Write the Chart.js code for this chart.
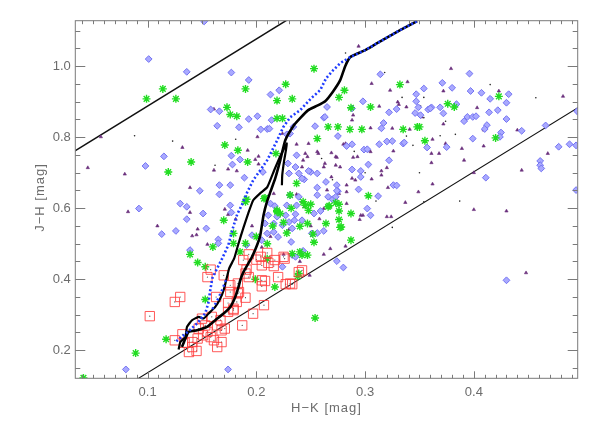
<!DOCTYPE html>
<html>
<head>
<meta charset="utf-8">
<script src="https://cdn.jsdelivr.net/npm/chart.js@4"></script>
<style>
  html, body { margin: 0; padding: 0; background: #ffffff; }
  #wrap { width: 598px; height: 428px; }
</style>
</head>
<body>
<div id="wrap"><canvas id="c" width="598" height="428"></canvas></div>
<script>
// ---------------- DATA (H−K, J−H) ----------------
const xTitle = 'H\u2212K [mag]';
const yTitle = 'J\u2212H [mag]';
const xRange = [0.0335, 0.4955];
const yRange = [0.121, 1.128];
const xTickLabels = [0.1, 0.2, 0.3, 0.4];
const yTickLabels = [0.2, 0.4, 0.6, 0.8, 1.0];
const xMinorStep = 0.01;
const yMinorStep = 0.05;

// reddening band borders
const reddeningUpper = [[0.0, 0.699], [0.25, 1.171]];
const reddeningLower = [[0.08, 0.099], [0.50, 0.891]];

// model tracks
const blueTrack = [
  [0.1264,0.2254],[0.1365,0.2507],[0.1457,0.2761],[0.1530,0.3042],[0.1558,0.3324],[0.1576,0.3690],
  [0.1595,0.4028],[0.1631,0.4254],[0.1687,0.4592],[0.1742,0.4958],[0.1778,0.5380],[0.1824,0.5831],
  [0.1870,0.6113],[0.1916,0.6451],[0.1971,0.6789],[0.2036,0.7070],[0.2100,0.7352],[0.2146,0.7634],
  [0.2192,0.7915],[0.2247,0.8282],[0.2312,0.8563],[0.2403,0.8761],[0.2505,0.9099],[0.2587,0.9324],
  [0.2642,0.9662],[0.2707,0.9887],[0.2771,1.0085],[0.2863,1.0254],[0.3001,1.0451],[0.3111,1.0648],
  [0.3322,1.1014],[0.3479,1.1268]
];
const blueTrack2 = [[0.1595,0.316],[0.1640,0.340],[0.1680,0.366],[0.1720,0.398]];
const trackA = [
  [0.1285,0.2020],[0.1301,0.2234],[0.1347,0.2375],[0.1362,0.2656],[0.1408,0.2845],[0.1469,0.2938],
  [0.1515,0.2893],[0.1561,0.3034],[0.1622,0.3220],[0.1668,0.3456],[0.1699,0.3690],[0.1730,0.4065],
  [0.1751,0.4310],[0.1797,0.4592],[0.1834,0.4986],[0.1880,0.5437],[0.1926,0.5859],[0.1971,0.6225],
  [0.2036,0.6423],[0.2100,0.6592],[0.2164,0.7070],[0.2220,0.7465],[0.2281,0.7823],[0.2256,0.7352],
  [0.2238,0.6930],[0.2235,0.6648]
];
const trackB = [
  [0.1316,0.2093],[0.1377,0.2515],[0.1454,0.2563],[0.1546,0.2656],[0.1622,0.2845],[0.1699,0.3034],
  [0.1760,0.3220],[0.1806,0.3501],[0.1836,0.3783],[0.1852,0.3972],[0.1882,0.4206],[0.1960,0.4628],
  [0.2006,0.4958],[0.2036,0.5239],[0.2066,0.5803],[0.2097,0.6177],[0.2128,0.6451],[0.2174,0.6845],
  [0.2220,0.7352],[0.2266,0.7915],[0.2339,0.8310],[0.2403,0.8535],[0.2477,0.8761],[0.2550,0.8873],
  [0.2633,0.9014],[0.2707,0.9296],[0.2771,0.9606],[0.2817,1.0000],[0.2863,1.0254],[0.3001,1.0451],
  [0.3111,1.0648],[0.3322,1.1014],[0.3479,1.1268]
];

const blueDiamonds = [
  [0.101,1.020],[0.136,0.984],[0.152,1.126],[0.177,0.982],[0.193,0.961],[0.213,0.920],[0.221,0.932],
  [0.158,0.878],[0.166,0.873],[0.164,0.832],[0.184,0.828],[0.193,0.851],[0.201,0.859],[0.210,0.823],[0.214,0.848],
  [0.177,0.748],[0.185,0.737],[0.098,0.719],[0.115,0.746],[0.092,0.599],[0.148,0.649],[0.166,0.639],[0.176,0.665],
  [0.189,0.686],[0.234,0.829],[0.231,0.810],[0.230,0.698],[0.236,0.716],[0.130,0.613],[0.136,0.604],
  [0.178,0.723],[0.166,0.665],[0.206,0.702],[0.204,0.822],
  [0.314,0.977],[0.396,0.979],[0.371,0.953],[0.354,0.937],[0.380,0.939],[0.397,0.930],[0.347,0.921],[0.407,0.925],[0.415,0.908],[0.432,0.921],
  [0.298,0.901],[0.347,0.901],[0.288,0.881],[0.265,0.885],[0.322,0.870],[0.329,0.879],[0.349,0.884],[0.358,0.878],[0.361,0.884],[0.372,0.867],
  [0.384,0.893],[0.430,0.897],[0.422,0.876],[0.414,0.870],[0.346,0.868],[0.351,0.862],[0.394,0.857],[0.399,0.857],[0.402,0.859],[0.391,0.845],
  [0.430,0.851],[0.262,0.855],[0.254,0.831],[0.412,0.834],[0.410,0.823],[0.425,0.813],[0.444,0.818],[0.466,0.833],[0.399,0.796],
  [0.424,0.801],[0.275,0.803],[0.299,0.765],[0.302,0.766],[0.313,0.780],[0.320,0.788],[0.325,0.789],[0.335,0.782],[0.336,0.785],[0.357,0.771],
  [0.375,0.772],[0.288,0.780],[0.283,0.775],[0.250,0.702],[0.256,0.698],[0.244,0.681],[0.288,0.709],[0.296,0.705],[0.303,0.723],
  [0.322,0.735],[0.264,0.674],[0.274,0.665],[0.326,0.665],[0.329,0.664],[0.312,0.634],[0.294,0.653],[0.275,0.648],[0.411,0.686],[0.461,0.733],
  [0.461,0.721],[0.462,0.712],[0.478,0.773],[0.488,0.780],[0.494,0.777],[0.494,0.651],[0.495,0.873],[0.256,0.637],[0.270,0.625],[0.302,0.599],
  [0.360,0.881],[0.369,0.884],[0.317,0.840],[0.315,0.825],
  [0.430,0.397],[0.274,0.451],[0.280,0.433],[0.243,0.480],[0.305,0.580],[0.262,0.536],[0.235,0.566],
  [0.113,0.527],[0.151,0.585],[0.139,0.482],[0.165,0.512],[0.080,0.146],[0.174,0.146],[0.224,0.435],[0.232,0.505],
  [0.176,0.608],[0.177,0.588],[0.136,0.569],[0.154,0.543],[0.126,0.536],[0.165,0.501],
  [0.231,0.637],[0.239,0.632],[0.274,0.649],[0.213,0.613],[0.217,0.606],[0.228,0.608],[0.237,0.608],[0.253,0.585],[0.259,0.592],
  [0.211,0.580],[0.219,0.576],[0.227,0.580],[0.236,0.583],[0.242,0.566],[0.208,0.557],[0.216,0.557],[0.224,0.552],[0.230,0.561],[0.233,0.543],
  [0.210,0.529],[0.216,0.533],[0.220,0.519],[0.205,0.510],[0.251,0.529],[0.256,0.530],[0.233,0.468],[0.236,0.463],[0.266,0.632],
  [0.212,0.824],[0.228,0.808],[0.263,0.857],[0.237,0.749],[0.229,0.726],[0.248,0.705],[0.239,0.698],[0.242,0.684],[0.256,0.658],[0.296,0.688],[0.273,0.632],
  [0.191,0.496],[0.196,0.524]
];

const purpleTriangles = [
  [0.045,0.714],[0.057,0.801],[0.079,0.696],[0.082,0.590],[0.132,0.771],[0.139,0.658],[0.161,0.707],[0.174,0.710],[0.201,0.801],[0.202,0.746],[0.224,0.810],[0.161,0.879],
  [0.192,0.763],[0.199,0.737],[0.202,0.724],[0.182,0.705],
  [0.109,0.550],[0.139,0.588],[0.141,0.522],[0.145,0.525],[0.155,0.498],[0.174,0.582],[0.171,0.597],[0.181,0.569],[0.146,0.541],
  [0.294,1.056],[0.379,0.993],[0.306,0.951],[0.339,0.956],[0.323,0.932],[0.372,0.930],[0.423,0.930],[0.482,0.915],
  [0.313,0.887],[0.338,0.885],[0.330,0.899],[0.288,0.848],[0.305,0.826],[0.325,0.825],[0.314,0.825],[0.352,0.857],[0.403,0.883],[0.372,0.837],
  [0.440,0.820],[0.409,0.820],[0.280,0.780],[0.289,0.743],[0.293,0.745],[0.305,0.759],[0.361,0.754],[0.374,0.782],[0.368,0.754],[0.326,0.761],
  [0.269,0.756],[0.274,0.743],[0.247,0.745],[0.243,0.735],[0.273,0.721],[0.306,0.682],[0.315,0.705],[0.315,0.693],[0.320,0.714],[0.361,0.728],
  [0.391,0.735],[0.400,0.700],[0.444,0.707],[0.468,0.754],[0.362,0.668],[0.349,0.646],[0.337,0.616],[0.321,0.658],[0.283,0.646],[0.400,0.596],
  [0.430,0.592],[0.288,0.684],[0.262,0.716],[0.256,0.759],[0.237,0.780],
  [0.448,0.418],[0.298,0.580],[0.320,0.576],[0.324,0.576],[0.282,0.493],[0.295,0.568],[0.249,0.411],
  [0.216,0.641],[0.237,0.639],[0.242,0.618],[0.244,0.604],[0.262,0.599],[0.273,0.627],[0.283,0.613],[0.296,0.580],[0.268,0.486],
  [0.248,0.782],[0.245,0.754],[0.273,0.745],[0.263,0.726],[0.277,0.716],[0.269,0.688],[0.291,0.679],[0.283,0.665],[0.265,0.651],[0.294,0.651],
  [0.289,0.862],[0.282,0.782],[0.276,0.641],[0.257,0.754],[0.242,0.716],
  [0.331,0.892],[0.341,0.822],[0.362,0.794],[0.389,0.768],[0.409,0.775],
  [0.196,0.550],[0.213,0.520],[0.225,0.470],[0.205,0.490],[0.230,0.540],[0.218,0.600],[0.250,0.550],[0.258,0.570],[0.262,0.470],[0.240,0.450]
];

const greenStars = [
  [0.099,0.908],[0.114,0.936],[0.126,0.908],[0.140,0.730],[0.119,0.702],[0.173,0.884],[0.176,0.864],[0.182,0.859],[0.190,0.936],[0.227,0.949],
  [0.219,0.903],[0.233,0.908],[0.219,0.853],[0.224,0.853],[0.171,0.778],[0.183,0.763],[0.192,0.730],[0.218,0.754],[0.237,0.670],[0.191,0.625],
  [0.208,0.629],[0.219,0.594],
  [0.253,0.993],[0.281,0.932],[0.276,0.912],[0.287,0.883],[0.305,0.885],[0.332,0.948],[0.376,0.894],[0.382,0.885],[0.423,0.915],[0.266,0.829],
  [0.275,0.829],[0.286,0.822],[0.297,0.822],[0.335,0.822],[0.348,0.829],[0.350,0.829],[0.355,0.790],[0.420,0.798],[0.256,0.796],
  [0.303,0.635],[0.273,0.615],[0.267,0.607],[0.287,0.585],[0.276,0.592],[0.243,0.618],[0.250,0.611],[0.248,0.594],[0.231,0.637],
  [0.254,0.291],[0.287,0.510],[0.277,0.546],[0.264,0.557],[0.253,0.504],[0.252,0.527],[0.240,0.477],[0.247,0.468],[0.276,0.568],
  [0.238,0.408],[0.240,0.549],[0.233,0.472],
  [0.041,0.122],[0.089,0.192],[0.117,0.231],[0.153,0.343],[0.139,0.470],[0.146,0.447],[0.160,0.491],[0.170,0.566],[0.199,0.400],[0.217,0.378],
  [0.179,0.529],[0.190,0.501],[0.185,0.477],[0.153,0.435],[0.179,0.501],[0.190,0.618],
  [0.207,0.627],[0.219,0.590],[0.222,0.585],[0.245,0.608],[0.247,0.557],[0.266,0.604],[0.276,0.611],[0.278,0.547],[0.210,0.458],[0.242,0.468],
  [0.239,0.416],[0.225,0.560],[0.232,0.600],[0.215,0.550],[0.200,0.520],[0.210,0.500],[0.228,0.530]
];

const redSquares = [
  [0.102,0.296],[0.125,0.336],[0.130,0.350],[0.125,0.228],[0.141,0.209],[0.145,0.198],[0.155,0.406],[0.158,0.427],[0.170,0.411],[0.163,0.350],
  [0.174,0.333],[0.179,0.313],[0.183,0.388],[0.183,0.360],[0.190,0.348],[0.191,0.427],[0.193,0.470],[0.197,0.303],[0.187,0.270],[0.207,0.327],
  [0.200,0.455],[0.210,0.474],[0.211,0.446],[0.205,0.380],[0.208,0.395],[0.216,0.437],[0.220,0.406],[0.226,0.458],[0.227,0.386],[0.233,0.386],
  [0.239,0.420],[0.242,0.425],
  [0.132,0.245],[0.134,0.221],[0.141,0.223],[0.146,0.233],[0.151,0.242],[0.155,0.252],[0.158,0.237],[0.161,0.228],[0.150,0.289],[0.153,0.270],
  [0.147,0.261],[0.159,0.294],[0.164,0.270],[0.167,0.285],[0.168,0.256],[0.171,0.261],[0.174,0.308],[0.179,0.317],[0.182,0.336],[0.184,0.364],
  [0.176,0.364],[0.164,0.209],[0.168,0.223],[0.138,0.195],
  [0.176,0.383],[0.188,0.454],[0.190,0.416],[0.193,0.406],[0.204,0.463],[0.205,0.439],[0.205,0.397],[0.217,0.454],[0.225,0.463],[0.231,0.388]
];

const blackDots = [
  [0.088,0.804],[0.123,0.789],[0.162,0.721],[0.181,0.794],[0.282,1.037],[0.318,0.982],[0.415,0.948],[0.354,0.912],[0.334,0.912],[0.330,0.899],
  [0.351,0.888],[0.354,0.855],[0.374,0.845],[0.383,0.808],[0.369,0.804],[0.338,0.803],[0.344,0.777],[0.457,0.911],[0.354,0.618],[0.387,0.620],
  [0.325,0.546],[0.260,0.740],[0.300,0.700],[0.310,0.620],[0.270,0.680],[0.350,0.700],[0.290,0.760]
];

// ---------------- CHART ----------------
const pts = a => a.map(p => ({x: p[0], y: p[1]}));
const FONT = "'Liberation Sans', Arial, sans-serif";
const TXT = '#6c6c6c';

const framePlugin = {
  id: 'idlFrame',
  afterDraw(chart) {
    const {ctx, chartArea: ca, scales: {x, y}} = chart;
    ctx.save();
    ctx.strokeStyle = '#7a7a7a';
    ctx.lineWidth = 1;
    ctx.strokeRect(ca.left, ca.top, ca.right - ca.left, ca.bottom - ca.top);
    ctx.beginPath();
    const xStart = Math.ceil(xRange[0] / xMinorStep);
    const xEnd = Math.floor(xRange[1] / xMinorStep);
    for (let i = xStart; i <= xEnd; i++) {
      const major = i % 10 === 0;
      const len = major ? 7 : 3.5;
      const px = Math.round(x.getPixelForValue(i * xMinorStep)) + 0.5;
      ctx.moveTo(px, ca.bottom); ctx.lineTo(px, ca.bottom - len);
      ctx.moveTo(px, ca.top); ctx.lineTo(px, ca.top + len);
    }
    const yStart = Math.ceil(yRange[0] / yMinorStep);
    const yEnd = Math.floor(yRange[1] / yMinorStep);
    for (let i = yStart; i <= yEnd; i++) {
      const major = i % 4 === 0;
      const len = major ? 10 : 5;
      const py = Math.round(y.getPixelForValue(i * yMinorStep)) + 0.5;
      ctx.moveTo(ca.left, py); ctx.lineTo(ca.left + len, py);
      ctx.moveTo(ca.right, py); ctx.lineTo(ca.right - len, py);
    }
    ctx.stroke();
    // axis titles
    ctx.fillStyle = TXT;
    ctx.font = '13px ' + FONT;
    try { ctx.letterSpacing = '1px'; } catch (e) {}
    ctx.textAlign = 'center';
    ctx.textBaseline = 'middle';
    ctx.fillText(xTitle, (ca.left + ca.right) / 2, 408);
    ctx.translate(40, (ca.top + ca.bottom) / 2 - 2);
    ctx.rotate(-Math.PI / 2);
    ctx.fillText(yTitle, 0, 0);
    ctx.restore();
  }
};

new Chart(document.getElementById('c'), {
  type: 'scatter',
  data: {
    datasets: [
      { label: 'blue track', data: pts(blueTrack), showLine: true, borderColor: '#1f3cff', borderWidth: 2.6,
        borderDash: [2, 2.2], pointRadius: 0, fill: false, order: 0 },
      { label: 'blue track 2', data: pts(blueTrack2), showLine: true, borderColor: '#1f3cff', borderWidth: 2.4,
        borderDash: [2, 3], pointRadius: 0, fill: false, order: 0 },
      { label: 'track A', data: pts(trackA), showLine: true, borderColor: '#000000', borderWidth: 2.2,
        pointRadius: 0, fill: false, tension: 0.15, order: 1 },
      { label: 'track B', data: pts(trackB), showLine: true, borderColor: '#000000', borderWidth: 2.6,
        pointRadius: 0, fill: false, tension: 0.15, order: 1 },
      { label: 'red squares', data: pts(redSquares), pointStyle: 'rect', pointRadius: 6.6, borderWidth: 1,
        borderColor: 'rgba(255,60,60,0.85)', backgroundColor: 'rgba(0,0,0,0)', order: 2 },
      { label: 'red centers', data: pts(redSquares), pointStyle: 'circle', pointRadius: 0.6, borderWidth: 0,
        backgroundColor: '#444444', order: 2 },
      { label: 'green', data: pts(greenStars), pointStyle: 'star', pointRadius: 4, borderWidth: 1.4,
        borderColor: '#22dd22', backgroundColor: 'rgba(0,0,0,0)', order: 3 },
      { label: 'blue', data: pts(blueDiamonds), pointStyle: 'rectRot', pointRadius: 3.4, borderWidth: 1,
        borderColor: '#7373f2', backgroundColor: '#a9a9ff', order: 4 },
      { label: 'purple', data: pts(purpleTriangles), pointStyle: 'triangle', pointRadius: 1.9, borderWidth: 0.6,
        borderColor: '#6a2f7c', backgroundColor: '#6a2f7c', order: 5 },
      { label: 'black', data: pts(blackDots), pointStyle: 'circle', pointRadius: 0.8, borderWidth: 0,
        backgroundColor: '#222222', order: 5 },
      { label: 'upper', data: pts(reddeningUpper), showLine: true, borderColor: '#111111', borderWidth: 1.5,
        pointRadius: 0, fill: false, order: 6 },
      { label: 'lower', data: pts(reddeningLower), showLine: true, borderColor: '#111111', borderWidth: 1.1,
        pointRadius: 0, fill: false, order: 6 }
    ]
  },
  options: {
    responsive: false,
    animation: false,
    devicePixelRatio: 1,
    layout: { padding: { top: 20.7, right: 20.3, left: 0, bottom: 0 } },
    plugins: { legend: { display: false }, tooltip: { enabled: false } },
    elements: { point: { hoverRadius: 0 } },
    scales: {
      x: {
        type: 'linear', min: xRange[0], max: xRange[1],
        grid: { display: false, drawTicks: false }, border: { display: false },
        afterBuildTicks: s => { s.ticks = xTickLabels.map(v => ({ value: v })); },
        afterFit: s => { s.height = 49.7; },
        ticks: { color: TXT, font: { family: FONT, size: 13 }, padding: 6.5, maxRotation: 0, autoSkip: false,
          callback: v => Number(v).toFixed(1) }
      },
      y: {
        type: 'linear', min: yRange[0], max: yRange[1],
        grid: { display: false, drawTicks: false }, border: { display: false },
        afterBuildTicks: s => { s.ticks = yTickLabels.map(v => ({ value: v })); },
        afterFit: s => { s.width = 75.3; },
        ticks: { color: TXT, font: { family: FONT, size: 13 }, padding: 4.5, autoSkip: false,
          callback: v => Number(v).toFixed(1) }
      }
    }
  },
  plugins: [framePlugin]
});
</script>
</body>
</html>
